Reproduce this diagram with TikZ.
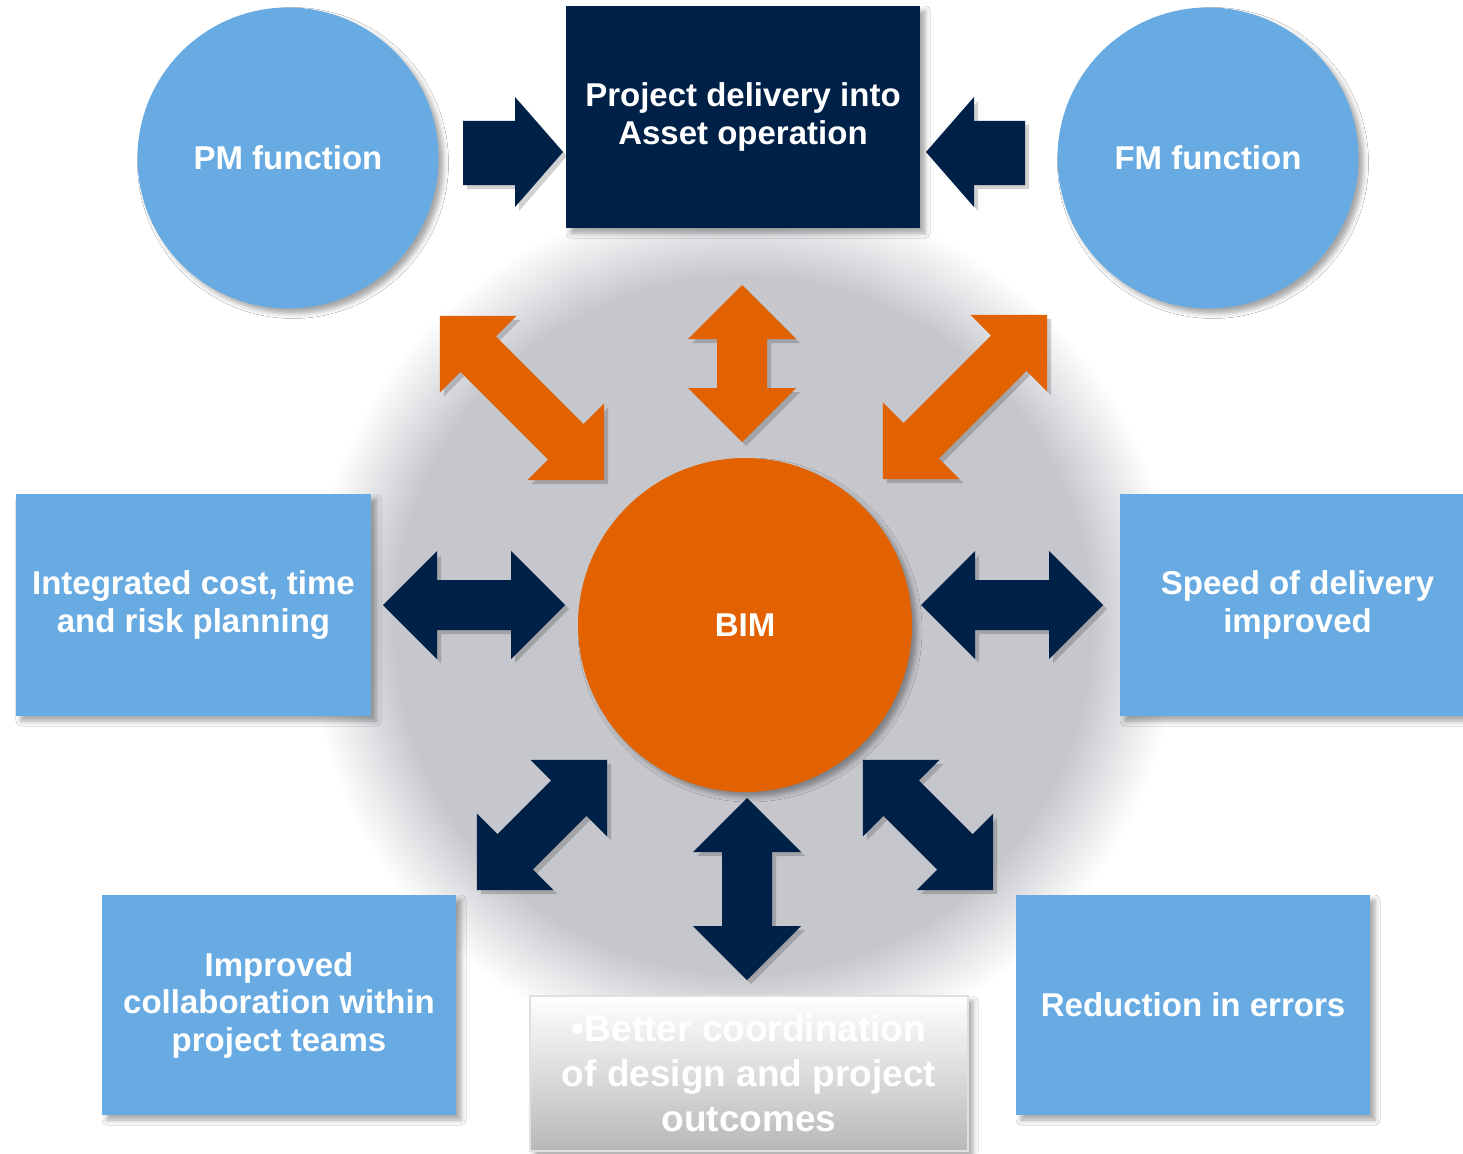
\documentclass[tikz,border=0pt]{standalone}
\usepackage{fontspec}
\setmainfont{Liberation Sans}
\usetikzlibrary{shadows.blur}
\definecolor{lblue}{RGB}{104,170,226}
\definecolor{navy}{RGB}{0,33,71}
\definecolor{bimorange}{RGB}{226,97,0}
\definecolor{glow}{RGB}{197,199,204}
\definecolor{boxgray}{RGB}{184,184,184}
\pgfdeclareradialshading{glowshade}{\pgfpoint{0bp}{0bp}}{color(0bp)=(glow); color(20bp)=(glow); color(22.7bp)=(glow!45!white); color(25bp)=(white); color(50bp)=(white)}
\tikzset{
  lbl/.style={font=\bfseries\fontsize{33}{37.5}\selectfont, text=white, align=center},
  softshadow/.style={blur shadow={shadow xshift=5pt, shadow yshift=-5pt, shadow opacity=35, shadow blur radius=5pt}},
  circ/.style={circle, inner sep=0pt, lbl, softshadow},
  rect/.style={rectangle, inner sep=0pt, lbl, softshadow},
  pics/dblarrow/.style={code={
    \fill (-#1,0) -- (-#1+54,-54) -- (-#1+54,-25) -- (#1-54,-25) -- (#1-54,-54)
      -- (#1,0) -- (#1-54,54) -- (#1-54,25) -- (-#1+54,25) -- (-#1+54,54) -- cycle;}}
}
\newcommand\barrow[5]{%
  \pic[fill=black, opacity=.18, rotate=#4] at (#2+4,#3+4) {dblarrow=#5};
  \pic[fill=#1, rotate=#4] at (#2,#3) {dblarrow=#5};}
\begin{document}
\begin{tikzpicture}[x=1pt,y=-1pt]
\useasboundingbox[fill=white] (0,0) rectangle (1463,1153);
% background glow
\shade[shading=glowshade] (743,625) circle (435pt);
% top row
\node[circ, fill=lblue, minimum size=301pt] (pm) at (288,158) {PM function};
\node[circ, fill=lblue, minimum size=301pt] (fm) at (1208,158) {FM function};
\node[rect, fill=navy, minimum width=354pt, minimum height=222pt] (pd) at (743,117) {Project delivery into\\Asset operation};
% arrows into project box
\fill[black, opacity=.18] (467,125) -- (519,125) -- (519,101) -- (567,156) -- (519,211) -- (519,189) -- (467,189) -- cycle;
\fill[navy] (463,121) -- (515,121) -- (515,97) -- (563,152) -- (515,207) -- (515,185) -- (463,185) -- cycle;
\fill[black, opacity=.18] (1029,125) -- (978,125) -- (978,101) -- (930,156) -- (978,211) -- (978,189) -- (1029,189) -- cycle;
\fill[navy] (1025,121) -- (974,121) -- (974,97) -- (926,152) -- (974,207) -- (974,185) -- (1025,185) -- cycle;
% side boxes
\node[rect, fill=lblue, minimum width=355pt, minimum height=222pt] (cost) at (193.5,605) {Integrated cost, time\\and risk planning};
\node[rect, fill=lblue, minimum width=355pt, minimum height=222pt] (speed) at (1297.5,605) {Speed of delivery\\improved};
\node[rect, fill=lblue, minimum width=354pt, minimum height=220pt] (collab) at (279,1005) {Improved\\collaboration within\\project teams};
\node[rect, fill=lblue, minimum width=354pt, minimum height=220pt] (errors) at (1193,1005) {Reduction in errors};
\node[rect, top color=white, bottom color=boxgray, draw=black!12, line width=1.2pt,
      minimum width=438pt, minimum height=155pt,
      font=\bfseries\fontsize{37}{45}\selectfont] (coord) at (749,1073.5)
      {\textbullet Better coordination\\of design and project\\outcomes};
% BIM
\node[circ, fill=bimorange, minimum size=334pt] (bim) at (745,625) {BIM};
% orange arrows
\barrow{bimorange}{742}{363.5}{90}{78.5}
\barrow{bimorange}{522}{398}{-45}{116}
\barrow{bimorange}{965}{397}{45}{116}
% navy arrows
\barrow{navy}{474}{605}{0}{91}
\barrow{navy}{1012}{605}{0}{91}
\barrow{navy}{747}{889}{90}{91}
\barrow{navy}{542}{825}{45}{92}
\barrow{navy}{928}{825}{-45}{92}
\end{tikzpicture}
\end{document}
